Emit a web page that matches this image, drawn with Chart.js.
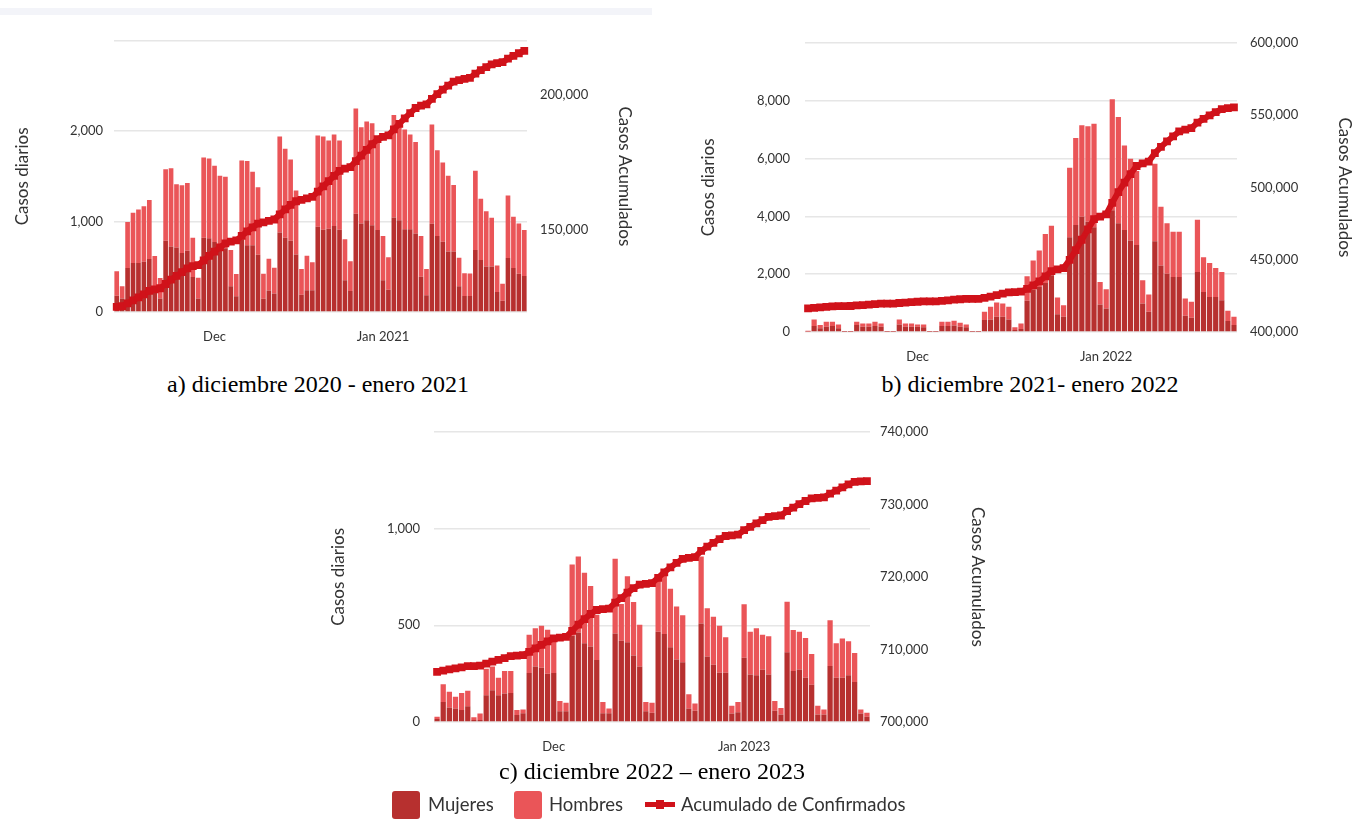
<!DOCTYPE html>
<html lang="es">
<head>
<meta charset="utf-8">
<title>Casos diarios y acumulados</title>
<script src="https://cdn.jsdelivr.net/npm/chart.js@4.4.1/dist/chart.umd.min.js"></script>
<style>
  html, body { margin: 0; padding: 0; background: #fff; }
  body { width: 1364px; height: 819px; position: relative; overflow: hidden; font-family: Lato, "Noto Sans", sans-serif; }
  .strip { position: absolute; left: 0; top: 8px; width: 652px; height: 7px; background: #f3f4f9; }
  canvas { position: absolute; }
  .cap { position: absolute; font-family: "Liberation Serif", "Times New Roman", serif; font-size: 24px; color: #000; white-space: nowrap; transform: translateX(-50%); }
  .sw { position: absolute; top: 791px; width: 28px; height: 28px; border-radius: 3px; }
  .lg { position: absolute; top: 793px; font-size: 18.5px; color: #333; white-space: nowrap; }
</style>
</head>
<body>
<div class="strip"></div>
<canvas id="chartA" width="660" height="340" style="left:0px;top:20px"></canvas>
<canvas id="chartB" width="684" height="350" style="left:680px;top:20px"></canvas>
<canvas id="chartC" width="700" height="360" style="left:300px;top:410px"></canvas>

<div class="cap" style="left:318px;top:371px">a) diciembre 2020 - enero 2021</div>
<div class="cap" style="left:1030px;top:371px">b) diciembre 2021- enero 2022</div>
<div class="cap" style="left:652px;top:758px">c) diciembre 2022 – enero 2023</div>

<div class="sw" style="left:392px;background:#b7302f"></div>
<div class="lg" style="left:428px">Mujeres</div>
<div class="sw" style="left:514px;background:#ea5558"></div>
<div class="lg" style="left:549px">Hombres</div>
<div style="position:absolute;left:645px;top:802px;width:30px;height:5px;background:#d0121a"></div>
<div style="position:absolute;left:656px;top:800px;width:8px;height:9px;background:#d0121a"></div>
<div class="lg" style="left:681px">Acumulado de Confirmados</div>

<script>
// a) Nov 13 2020 - Jan 27 2021
const startA = '2020-11-13';
const mujeresA = [180,150,488,543,543,555,585,230,150,787, 725,714,652,678,386,150,820,816,775,745,
  705,285,175,805,738,738,632,147,237,204, 880,820,787,637,192,240,240,944,910,922,
  951,910,350,233,1086,978,1016,960,907,350, 245,1045,1015,915,915,869,390,186,976,842,
  776,670,670,284,178,178,685,576,503,503, 222,124,597,488,423,397];
const hombresA = [270,135,507,554,592,615,655,390,225,793, 865,700,751,748,434,229,889,882,843,763,
  792,402,245,870,931,814,748,276,353,286, 1062,987,900,707,285,383,310,1009,1032,976,
  1013,988,455,328,1166,1066,1090,1128,973,490, 360,1134,1084,1103,1049,1011,452,291,1097,947,
  878,838,736,316,252,248,878,677,612,539, 292,189,693,565,557,510];
const acumuladoA = [121400,121685,122680,123777,124912,126082,127322,127942,128317,129897,
  131487,132901,134304,135730,136550,136929,138638,140336,141954,143462,
  144959,145646,146066,147741,149410,150962,152342,152765,153355,153845,
  155787,157594,159281,160625,161102,161725,162275,164228,166170,168068,
  170032,171930,172735,173296,175548,177592,179698,181786,183666,184506,
  185111,187290,189389,191407,193371,195251,196093,196570,198643,200432,
  202086,203594,205000,205600,206030,206456,208019,209272,210387,211429,
  211943,212256,213546,214599,215579,216486];
const leftTicksA = [0, 1000, 2000];
const rightTicksA = [150000, 200000];

// b) Nov 13 2021 - Jan 22 2022
const startB = '2021-11-13';
const mujeresB = [20,206,126,183,206,126,10,10,240,183, 183,206,183,10,10,263,183,183,183,160,
  10,10,206,206,229,183,160,10,10,412, 435,527,527,435,69,103,1077,1466,1557,1695,
  1958,618,527,3275,3700,3986,3814,3619,950,813, 4214,3757,3527,3161,3012,985,699,3138,2302,2016,
  1901,1901,561,492,2073,1386,1214,1214,1100,378, 240];
const hombresB = [20,229,114,172,149,137,10,10,115,114, 114,149,114,10,10,172,114,114,80,103,
  10,10,149,149,160,138,103,10,10,286, 435,492,458,435,91,194,847,1008,1261,1695,
  1719,573,401,2406,3011,3161,3299,3585,779,664, 3838,3676,2921,2829,2554,802,595,2680,2027,1741,
  1569,1569,596,550,1810,1203,1168,997,973,355, 287];
const acumuladoB = [416300,416735,416975,417330,417685,417948,417968,417988,418343,418640,
  418937,419292,419589,419609,419629,420064,420361,420658,420921,421184,
  421204,421224,421579,421934,422323,422644,422907,422927,422947,423645,
  424515,425534,426519,427389,427549,427846,429770,432244,435062,438452,
  442129,443320,444248,449929,456640,463787,470900,478104,479833,481310,
  489362,496795,503243,509233,514799,516586,517880,523698,528027,531784,
  535254,538724,539881,540923,544806,547395,549777,551988,554061,554794,
  555321];
const leftTicksB = [0, 2000, 4000, 6000, 8000];
const rightTicksB = [400000, 450000, 500000, 550000, 600000];

// c) Nov 12 2022 - Jan 21 2023
const startC = '2022-11-12';
const mujeresC = [15,104,75,70,62,82,10,10,138,164, 138,147,150,36,45,253,287,280,250,253,
  56,56,446,463,407,390,321,45,45,458, 420,412,344,287,56,48,467,455,386,323,
  309,70,58,509,338,296,255,255,44,50, 332,246,241,270,246,58,39,361,263,272,
  229,193,39,39,289,229,229,241,207,44, 27];
const hombresC = [12,91,81,60,88,79,14,34,137,123, 91,116,113,26,20,198,197,217,227,167,
  53,43,368,393,364,313,233,59,25,386, 190,342,276,216,48,51,265,304,303,274,
  243,74,38,347,250,248,242,183,40,54, 276,221,243,181,197,51,34,261,212,195,
  205,159,45,26,237,178,203,176,150,21, 21];
const acumuladoC = [706900,707095,707251,707381,707531,707692,707716,707760,708035,708322,
  708551,708814,709077,709139,709204,709655,710139,710636,711113,711533,
  711642,711741,712555,713411,714182,714885,715439,715543,715613,716457,
  717067,717821,718441,718944,719048,719147,719879,720638,721327,721924,
  722476,722620,722716,723572,724160,724704,725201,725639,725723,725827,
  726435,726902,727386,727837,728280,728389,728462,729084,729559,730026,
  730460,730812,730896,730961,731487,731894,732326,732743,733100,733165,
  733213];
const leftTicksC = [0, 500, 1000];
const rightTicksC = [700000, 710000, 720000, 730000, 740000];

const darkRed = '#b7302f';
const lightRed = '#ea5558';
const lineRed = '#d0121a';
const tickFont = { family: 'Lato', size: 13 };
const titleFont = { family: 'Lato', size: 17 };

// one date label per bar
function dayLabels(start, n) {
  const [y, m, d] = start.split('-').map(Number);
  const out = [];
  for (let i = 0; i < n; i++) {
    out.push(new Date(Date.UTC(y, m - 1, d + i)).toISOString().slice(0, 10));
  }
  return out;
}

// only the first of Dec and of Jan get a label
function monthTick(label) {
  if (label.endsWith('-12-01')) return 'Dec';
  if (label.endsWith('-01-01')) return 'Jan ' + label.slice(0, 4);
  return '';
}

function fmt(v) {
  return v.toLocaleString('en-US');
}

function drawPanel(id, p) {
  const labels = dayLabels(p.start, p.mujeres.length);
  return new Chart(document.getElementById(id), {
    type: 'bar',
    data: {
      labels: labels,
      datasets: [
        {
          type: 'line', label: 'Acumulado de Confirmados', data: p.acumulado, yAxisID: 'y1',
          borderColor: lineRed, backgroundColor: lineRed, borderWidth: 6,
          pointStyle: 'rect', pointRadius: 5.5, pointBorderWidth: 0, tension: 0, order: 0
        },
        {
          label: 'Mujeres', data: p.mujeres, yAxisID: 'y', stack: 's', order: 1,
          backgroundColor: darkRed, barPercentage: 0.86, categoryPercentage: 1
        },
        {
          label: 'Hombres', data: p.hombres, yAxisID: 'y', stack: 's', order: 1,
          backgroundColor: lightRed, barPercentage: 0.86, categoryPercentage: 1
        }
      ]
    },
    options: {
      responsive: false,
      animation: false,
      devicePixelRatio: 1,
      layout: { padding: { top: p.top, left: 0, right: 0, bottom: 0 } },
      plugins: { legend: { display: false }, tooltip: { enabled: false } },
      scales: {
        x: {
          stacked: true,
          grid: { display: false },
          border: { display: false },
          ticks: {
            autoSkip: false, maxRotation: 0, padding: 9, color: '#333', font: tickFont,
            callback: function (v) { return monthTick(this.getLabelForValue(v)); }
          },
          afterFit: s => { s.height = p.xHeight; }
        },
        y: {
          stacked: true,
          min: 0, max: p.leftMax,
          grid: { color: '#e6e6e6', lineWidth: 1.5, drawTicks: false },
          border: { display: false },
          afterBuildTicks: s => { s.ticks = p.leftTicks.concat([p.leftMax]).map(v => ({ value: v })); },
          ticks: {
            padding: p.leftTickPad, color: '#333', font: tickFont,
            callback: v => (v === p.leftMax ? '' : fmt(v))
          },
          title: { display: true, text: 'Casos diarios', color: '#333', font: titleFont, padding: { top: p.leftTitlePad, bottom: 0 } },
          afterFit: s => { s.width = p.leftWidth; }
        },
        y1: {
          position: 'right',
          min: p.rightMin, max: p.rightMax,
          grid: { display: false, drawTicks: false },
          border: { display: false },
          afterBuildTicks: s => { s.ticks = p.rightTicks.map(v => ({ value: v })); },
          ticks: { padding: p.rightTickPad, color: '#333', font: tickFont, callback: v => fmt(v) },
          title: { display: true, text: 'Casos Acumulados', color: '#333', font: titleFont, padding: { top: p.rightTitlePad, bottom: 0 } },
          afterFit: s => { s.width = p.rightWidth; }
        }
      }
    }
  });
}

drawPanel('chartA', {
  start: startA, mujeres: mujeresA, hombres: hombresA, acumulado: acumuladoA,
  leftTicks: leftTicksA, leftMax: 3000, rightTicks: rightTicksA, rightMin: 119500, rightMax: 220200,
  top: 18, xHeight: 48, leftWidth: 114, rightWidth: 133,
  leftTickPad: 11, rightTickPad: 13, leftTitlePad: 12, rightTitlePad: 25
});

drawPanel('chartB', {
  start: startB, mujeres: mujeresB, hombres: hombresB, acumulado: acumuladoB,
  leftTicks: leftTicksB, leftMax: 10000, rightTicks: rightTicksB, rightMin: 400000, rightMax: 600000,
  top: 20, xHeight: 38, leftWidth: 125, rightWidth: 127,
  leftTickPad: 15, rightTickPad: 13, leftTitlePad: 18, rightTitlePad: 9
});

drawPanel('chartC', {
  start: startC, mujeres: mujeresC, hombres: hombresC, acumulado: acumuladoC,
  leftTicks: leftTicksC, leftMax: 1500, rightTicks: rightTicksC, rightMin: 700000, rightMax: 740000,
  top: 18, xHeight: 48, leftWidth: 134, rightWidth: 130,
  leftTickPad: 14, rightTickPad: 10, leftTitlePad: 28, rightTitlePad: 12
});
</script>
</body>
</html>
